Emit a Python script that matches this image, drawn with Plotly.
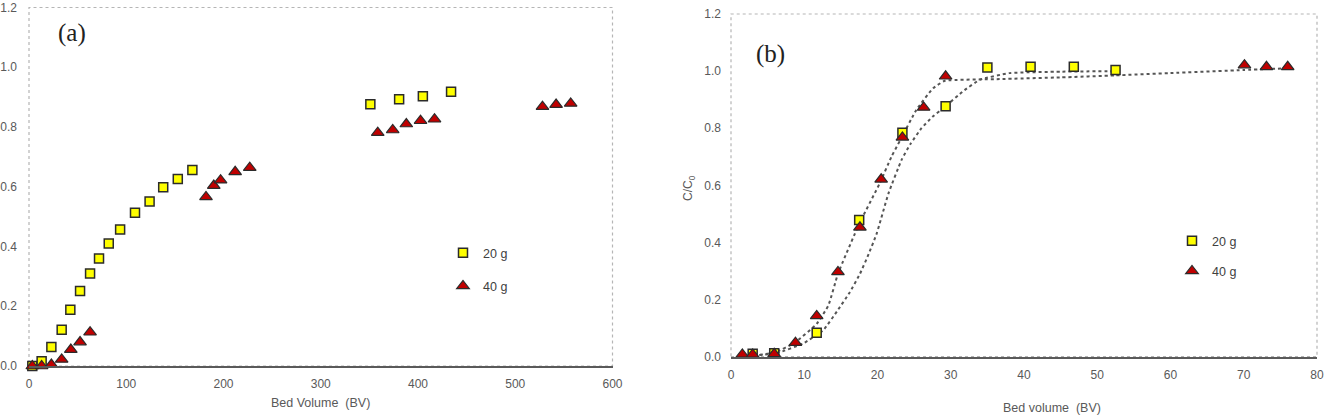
import plotly.graph_objects as go

# ---------------- Panel (a) data ----------------
a20_x = [3.4, 13, 23, 33.6, 42.5, 52.5, 62.8, 72, 82, 93.7, 109, 124, 138, 153, 168, 351, 380.6, 405, 434]
a20_y = [0.0, 0.016, 0.064, 0.121, 0.188, 0.251, 0.31, 0.36, 0.41, 0.457, 0.513, 0.551, 0.598, 0.626, 0.656, 0.876, 0.893, 0.903, 0.918]
a40_x = [3.4, 13, 23, 33.6, 43, 52.5, 62.8, 182, 190, 197, 212, 227, 358.6, 374, 388, 402.6, 417, 528, 542, 557]
a40_y = [0.0, 0.0, 0.005, 0.022, 0.055, 0.08, 0.113, 0.566, 0.604, 0.622, 0.65, 0.664, 0.781, 0.79, 0.81, 0.821, 0.826, 0.868, 0.875, 0.879]

# ---------------- Panel (b) data ----------------
b20_x = [2.96, 5.9, 11.7, 17.5, 23.4, 29.3, 35, 40.9, 46.8, 52.5]
b20_y = [0.01, 0.012, 0.084, 0.479, 0.784, 0.877, 1.013, 1.015, 1.015, 1.004]
b40_x = [1.55, 2.96, 5.9, 8.8, 11.7, 14.6, 17.6, 20.5, 23.4, 26.3, 29.3, 70.1, 73.1, 76]
b40_y = [0.008, 0.008, 0.01, 0.049, 0.143, 0.297, 0.453, 0.621, 0.768, 0.873, 0.982, 1.021, 1.015, 1.015]

# fitted curves
fit40_x = [1.5, 4, 6, 8.7, 11.7, 13.3, 14.6, 17.5, 20.3, 21.9, 23.1, 25.3, 27.6, 29.2, 36.7, 45, 52.5, 60, 70, 76]
fit40_y = [0.004, 0.007, 0.015, 0.049, 0.115, 0.18, 0.29, 0.465, 0.607, 0.7, 0.758, 0.864, 0.94, 0.966, 0.972, 0.978, 0.985, 0.993, 1.004, 1.01]
fit20_x = [3, 6.2, 9.9, 12.6, 14.5, 16.2, 17.6, 18.8, 19.9, 21.5, 23.3, 24.5, 26, 27.5, 29.3, 31.7, 34, 38, 45, 52.5]
fit20_y = [0.004, 0.012, 0.047, 0.093, 0.16, 0.225, 0.29, 0.36, 0.432, 0.572, 0.69, 0.745, 0.80, 0.84, 0.877, 0.93, 0.97, 0.993, 0.998, 1.0]

labels = ["20 g", "40 g"]

FONT = "Liberation Sans, Arial, sans-serif"
TICKC = "#595959"
YEL = "#FFFF00"
RED = "#C00000"
EDGE = "#2b2b2b"
W, H = 1326, 417

sq = dict(symbol="square", size=9, color=YEL, line=dict(color=EDGE, width=1.5))
tri = dict(symbol="triangle-up", size=11, color=RED, line=dict(color=EDGE, width=1.2))

fig = go.Figure()

# Panel (a)
fig.add_trace(go.Scatter(x=a20_x, y=a20_y, mode="markers", marker=sq, name=labels[0],
                         xaxis="x", yaxis="y", legend="legend", legendgroup="a20", cliponaxis=False))
fig.add_trace(go.Scatter(x=a40_x, y=a40_y, mode="markers", marker=tri, name=labels[1],
                         xaxis="x", yaxis="y", legend="legend", legendgroup="a40", cliponaxis=False))

# Panel (b) fits
fitline = dict(color="#555555", width=2, dash="dot", shape="spline", smoothing=0.4)
fig.add_trace(go.Scatter(x=fit40_x, y=fit40_y, mode="lines", line=fitline, showlegend=False,
                         xaxis="x2", yaxis="y2", hoverinfo="skip"))
fig.add_trace(go.Scatter(x=fit20_x, y=fit20_y, mode="lines", line=fitline, showlegend=False,
                         xaxis="x2", yaxis="y2", hoverinfo="skip"))
# Panel (b) points
fig.add_trace(go.Scatter(x=b20_x, y=b20_y, mode="markers", marker=sq, name=labels[0],
                         xaxis="x2", yaxis="y2", legend="legend2", legendgroup="b20", cliponaxis=False))
fig.add_trace(go.Scatter(x=b40_x, y=b40_y, mode="markers", marker=tri, name=labels[1],
                         xaxis="x2", yaxis="y2", legend="legend2", legendgroup="b40", cliponaxis=False))

def px_x(p):
    return p / W

def px_y(p):
    return 1 - p / H

axis_common = dict(showgrid=False, zeroline=False, ticks="", automargin=False,
                   tickfont=dict(family=FONT, size=12, color=TICKC), fixedrange=True)

fig.update_layout(
    width=W, height=H,
    margin=dict(l=0, r=0, t=0, b=0),
    paper_bgcolor="white", plot_bgcolor="white",
    font=dict(family=FONT, color=TICKC),
    xaxis=dict(domain=[px_x(29), px_x(612.5)], range=[0, 600], dtick=100, anchor="y",
               showline=True, linecolor="#5a5a5a", linewidth=1.5, ticklabelstandoff=6, **axis_common),
    yaxis=dict(domain=[px_y(366), px_y(7.5)], range=[0, 1.2], dtick=0.2, tickformat=".1f", anchor="x",
               showline=False, ticklabelstandoff=11, **axis_common),
    xaxis2=dict(domain=[px_x(731), px_x(1317)], range=[0, 80], dtick=10, anchor="y2",
                showline=True, linecolor="#5a5a5a", linewidth=1.5, ticklabelstandoff=6, **axis_common),
    yaxis2=dict(domain=[px_y(356.7), px_y(14)], range=[0, 1.2], dtick=0.2, tickformat=".1f", anchor="x2",
                showline=False, ticklabelstandoff=9, **axis_common),
    legend=dict(x=px_x(443), y=px_y(238), xanchor="left", yanchor="top", bgcolor="rgba(0,0,0,0)",
                font=dict(family=FONT, size=12.5, color="#404040"), tracegroupgap=14, borderwidth=0),
    legend2=dict(x=px_x(1172), y=px_y(226), xanchor="left", yanchor="top", bgcolor="rgba(0,0,0,0)",
                 font=dict(family=FONT, size=12.5, color="#404040"), tracegroupgap=11, borderwidth=0),
    showlegend=True,
)

# dotted plot-area borders
for xr, yr in (("x domain", "y domain"), ("x2 domain", "y2 domain")):
    fig.add_shape(type="rect", xref=xr, yref=yr, x0=0, x1=1, y0=0, y1=1,
                  line=dict(color="#b5b5b5", width=1.2, dash="dot"), layer="below")

ann = [
    dict(text="(a)", x=px_x(71.5), y=px_y(33), font=dict(family="Liberation Serif, Times New Roman, serif", size=25, color="#222222")),
    dict(text="(b)", x=px_x(770.5), y=px_y(54), font=dict(family="Liberation Serif, Times New Roman, serif", size=25, color="#222222")),
    dict(text="Bed Volume  (BV)", x=px_x(320), y=px_y(403), font=dict(family=FONT, size=12.5, color=TICKC)),
    dict(text="Bed volume  (BV)", x=px_x(1052), y=px_y(408), font=dict(family=FONT, size=12.5, color=TICKC)),
    dict(text="C/C<sub>0</sub>", x=px_x(689), y=px_y(188), textangle=-90, font=dict(family=FONT, size=12, color=TICKC)),
]
for a in ann:
    fig.add_annotation(xref="paper", yref="paper", showarrow=False, xanchor="center", yanchor="middle", **a)

fig.write_html("out.html")
